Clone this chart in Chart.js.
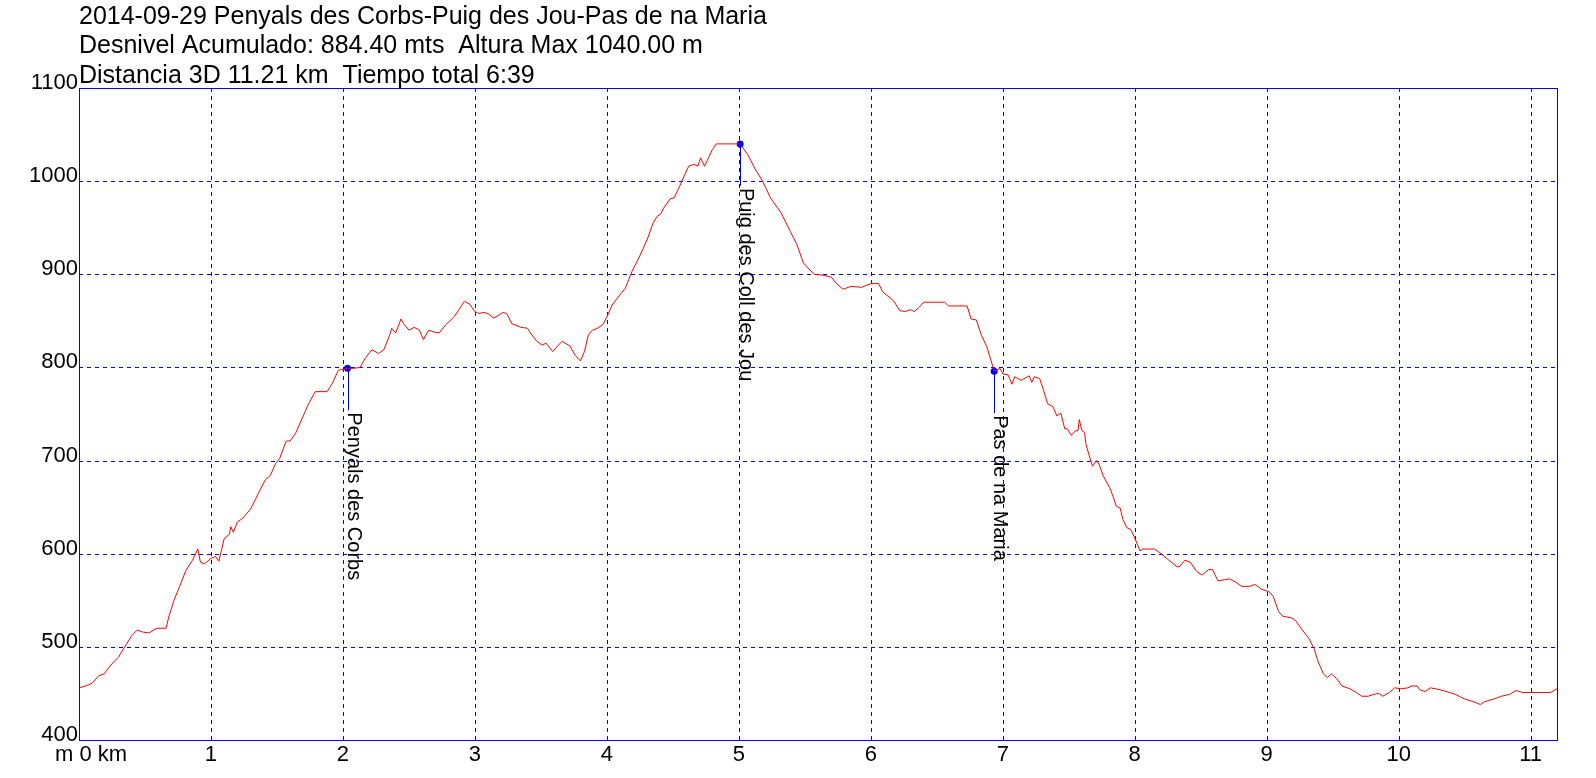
<!DOCTYPE html>
<html lang="es">
<head>
    <meta charset="UTF-8">
    <title>Perfil 2014-09-29</title>
    <style>
        body { margin: 0; background: #ffffff; }
        canvas { display: block; }
    </style>
</head>
<body>
<canvas id="perfil" width="1596" height="778"></canvas>

<script src="https://cdn.jsdelivr.net/npm/chart.js"></script>
<script>
    // Textos de cabecera
    const titleLines = [
        '2014-09-29 Penyals des Corbs-Puig des Jou-Pas de na Maria',
        'Desnivel Acumulado: 884.40 mts  Altura Max 1040.00 m',
        'Distancia 3D 11.21 km  Tiempo total 6:39'
    ];

    // Perfil: distancia (km) y altura (m)
    const distKm = [
        0.00, 0.05, 0.10, 0.15, 0.19, 0.25, 0.30, 0.35, 0.40, 0.44, 0.48, 0.53, 0.59, 0.66, 0.68, 0.72,
        0.76, 0.81, 0.86, 0.90, 0.92, 0.95, 1.00, 1.035, 1.06, 1.10, 1.14, 1.15, 1.17, 1.20, 1.24, 1.30,
        1.36, 1.41, 1.45, 1.49, 1.52, 1.57, 1.60, 1.64, 1.69, 1.74, 1.79, 1.84, 1.88, 1.92, 1.965, 2.035,
        2.08, 2.13, 2.17, 2.22, 2.27, 2.31, 2.35, 2.37, 2.40, 2.44, 2.46, 2.50, 2.54, 2.58, 2.61, 2.65,
        2.69, 2.73, 2.78, 2.84, 2.88, 2.92, 2.96, 3.00, 3.03, 3.07, 3.11, 3.14, 3.17, 3.21, 3.24, 3.28,
        3.35, 3.40, 3.42, 3.47, 3.51, 3.54, 3.59, 3.62, 3.66, 3.72, 3.76, 3.80, 3.83, 3.86, 3.89, 3.93,
        3.97, 4.00, 4.04, 4.11, 4.14, 4.19, 4.23, 4.27, 4.31, 4.35, 4.38, 4.41, 4.43, 4.48, 4.51, 4.55,
        4.59, 4.62, 4.66, 4.69, 4.71, 4.74, 4.77, 4.80, 4.83, 4.89, 4.96, 5.01, 5.07, 5.12, 5.18, 5.24,
        5.32, 5.39, 5.44, 5.49, 5.57, 5.64, 5.70, 5.74, 5.79, 5.85, 5.93, 6.00, 6.06, 6.09, 6.17, 6.22,
        6.26, 6.30, 6.33, 6.37, 6.40, 6.56, 6.59, 6.66, 6.73, 6.76, 6.80, 6.84, 6.88, 6.91, 6.935, 6.98,
        7.00, 7.04, 7.07, 7.09, 7.14, 7.20, 7.22, 7.24, 7.28, 7.31, 7.34, 7.38, 7.41, 7.44, 7.47, 7.49,
        7.52, 7.55, 7.57, 7.58, 7.60, 7.62, 7.63, 7.66, 7.68, 7.71, 7.73, 7.76, 7.79, 7.81, 7.84, 7.86,
        7.89, 7.91, 7.94, 7.97, 8.00, 8.04, 8.06, 8.10, 8.15, 8.19, 8.25, 8.32, 8.34, 8.38, 8.42, 8.47,
        8.51, 8.56, 8.59, 8.63, 8.68, 8.72, 8.76, 8.81, 8.87, 8.91, 8.96, 9.02, 9.05, 9.09, 9.12, 9.19,
        9.22, 9.26, 9.32, 9.36, 9.39, 9.43, 9.46, 9.49, 9.53, 9.57, 9.63, 9.68, 9.72, 9.77, 9.81, 9.85,
        9.88, 9.93, 9.97, 10.02, 10.07, 10.10, 10.14, 10.16, 10.20, 10.24, 10.28, 10.34, 10.43, 10.50, 10.57, 10.62,
        10.65, 10.72, 10.78, 10.84, 10.89, 10.94, 11.00, 11.08, 11.15, 11.20
    ];
    const elevM = [
        456, 458, 461, 469, 471, 482, 489, 501, 512, 518, 516, 515, 520, 520, 532, 550,
        564, 582, 593, 605, 591, 589, 595, 597, 592, 616, 621, 629, 623, 634, 638, 648,
        665, 679, 684, 697, 702, 721, 721, 729, 745, 761, 774, 774, 774, 783, 797, 799,
        799, 800, 810, 819, 815, 819, 833, 842, 837, 852, 847, 840, 843, 840, 830, 840,
        838, 837, 846, 854, 862, 871, 868, 860, 858, 859, 857, 853, 855, 859, 858, 847,
        843, 842, 837, 828, 824, 826, 817, 822, 828, 823, 813, 807, 817, 835, 840, 842,
        846, 854, 867, 880, 885, 903, 914, 926, 939, 955, 962, 965, 971, 981, 982, 994,
        1007, 1016, 1018, 1016, 1025, 1016, 1025, 1034, 1040, 1040, 1040, 1040, 1028, 1014, 1000, 982,
        966, 946, 932, 912, 900, 899, 897, 890, 884, 887, 886, 890, 890, 881, 872, 861,
        860, 862, 860, 865, 870, 870, 866, 866, 866, 852, 851, 834, 822, 808, 796, 799,
        793, 792, 782, 790, 786, 791, 784, 790, 788, 775, 761, 758, 748, 751, 734, 734,
        727, 732, 732, 744, 732, 730, 718, 703, 694, 700, 696, 684, 676, 671, 660, 651,
        649, 637, 628, 626, 617, 603, 605, 605, 605, 601, 594, 586, 586, 593, 591, 581,
        577, 583, 583, 571, 572, 573, 570, 565, 565, 567, 562, 559, 554, 538, 533, 531,
        528, 520, 509, 498, 484, 471, 467, 471, 466, 458, 455, 451, 447, 447, 449, 450,
        447, 451, 456, 455, 456, 458, 458, 454, 452, 456, 455, 453, 449, 444, 441, 438,
        441, 444, 447, 449, 453, 451, 451, 451, 451, 455
    ];

    // Puntos de paso
    const wpNames = ['Penyals des Corbs', 'Puig des Coll des Jou', 'Pas de na Maria'];
    const wpKm = [2.035, 5.01, 6.935];
    const wpElev = [799, 1040, 796];

    // Ejes
    const xMin = 0, xMax = 11.2;
    const xTicks = [0, 1, 2, 3, 4, 5, 6, 7, 8, 9, 10, 11];
    const yTicks = [400, 500, 600, 700, 800, 900, 1000, 1100];

    const FAMILY = '"Liberation Sans", Arial, sans-serif';
    const BLUE = '#0000ff';

    const perfilPlugin = {
        id: 'perfil',
        beforeDatasetsDraw(chart) {
            const { ctx, chartArea: a, scales: { x, y } } = chart;
            ctx.save();
            ctx.strokeStyle = BLUE;
            ctx.lineWidth = 1;
            ctx.setLineDash([4, 4]);
            xTicks.forEach(v => {
                if (v === xMin) return;
                const px = Math.round(x.getPixelForValue(v)) + 0.5;
                ctx.beginPath();
                ctx.moveTo(px, a.top);
                ctx.lineTo(px, a.bottom);
                ctx.stroke();
            });
            yTicks.forEach(v => {
                if (v === 400 || v === 1100) return;
                const py = Math.round(y.getPixelForValue(v)) + 0.5;
                ctx.beginPath();
                ctx.moveTo(a.left, py);
                ctx.lineTo(a.right, py);
                ctx.stroke();
            });
            ctx.restore();
        },
        afterDatasetsDraw(chart) {
            const { ctx, chartArea: a, scales: { x, y } } = chart;
            ctx.save();
            // marco
            ctx.strokeStyle = BLUE;
            ctx.lineWidth = 1;
            ctx.strokeRect(Math.round(a.left) + 0.5, Math.round(a.top) + 0.5,
                Math.round(a.right - a.left), Math.round(a.bottom - a.top));

            ctx.fillStyle = '#000000';
            ctx.font = '22px ' + FAMILY;

            // etiquetas eje Y (encima de la linea)
            ctx.textAlign = 'right';
            ctx.textBaseline = 'alphabetic';
            yTicks.forEach(v => {
                ctx.fillText(String(v), a.left - 1, Math.round(y.getPixelForValue(v)) + 1);
            });

            // etiquetas eje X
            ctx.textAlign = 'center';
            xTicks.forEach(v => {
                const px = x.getPixelForValue(v);
                if (v === 0) {
                    ctx.textAlign = 'left';
                    ctx.fillText('m 0 km', px - 24, a.bottom + 21);
                    ctx.textAlign = 'center';
                } else {
                    ctx.fillText(String(v), px, a.bottom + 21);
                }
            });

            // cabecera
            ctx.font = '25px ' + FAMILY;
            ctx.textAlign = 'left';
            [24, 53, 83].forEach((by, i) => ctx.fillText(titleLines[i], a.left, by));

            // puntos de paso: linea vertical y nombre girado
            ctx.font = '20px ' + FAMILY;
            wpNames.forEach((name, i) => {
                const px = Math.round(x.getPixelForValue(wpKm[i])) + 0.5;
                const py = y.getPixelForValue(wpElev[i]);
                ctx.strokeStyle = BLUE;
                ctx.beginPath();
                ctx.moveTo(px, py);
                ctx.lineTo(px, py + 42);
                ctx.stroke();

                ctx.save();
                ctx.translate(px - 1, py + 44);
                ctx.rotate(Math.PI / 2);
                ctx.fillStyle = '#000000';
                ctx.textAlign = 'left';
                ctx.textBaseline = 'alphabetic';
                ctx.fillText(name, 0, 0);
                ctx.restore();
            });
            ctx.restore();
        }
    };

    const ctx = document.getElementById('perfil').getContext('2d');
    new Chart(ctx, {
        type: 'line',
        data: {
            datasets: [{
                label: 'Altura',
                data: distKm.map((d, i) => ({ x: d, y: elevM[i] })),
                borderColor: '#ff0000',
                borderWidth: 1,
                pointRadius: 0,
                tension: 0,
                fill: false
            }, {
                type: 'scatter',
                label: 'Puntos',
                data: wpKm.map((d, i) => ({ x: d, y: wpElev[i] })),
                backgroundColor: BLUE,
                borderColor: BLUE,
                pointRadius: 3.5,
                borderWidth: 0
            }]
        },
        options: {
            responsive: false,
            animation: false,
            events: [],
            layout: { padding: { left: 79, top: 88, right: 39, bottom: 38 } },
            plugins: { legend: { display: false }, tooltip: { enabled: false } },
            scales: {
                x: { type: 'linear', min: xMin, max: xMax, display: false },
                y: { type: 'linear', min: 400, max: 1100, display: false }
            }
        },
        plugins: [perfilPlugin]
    });
</script>
</body>
</html>
